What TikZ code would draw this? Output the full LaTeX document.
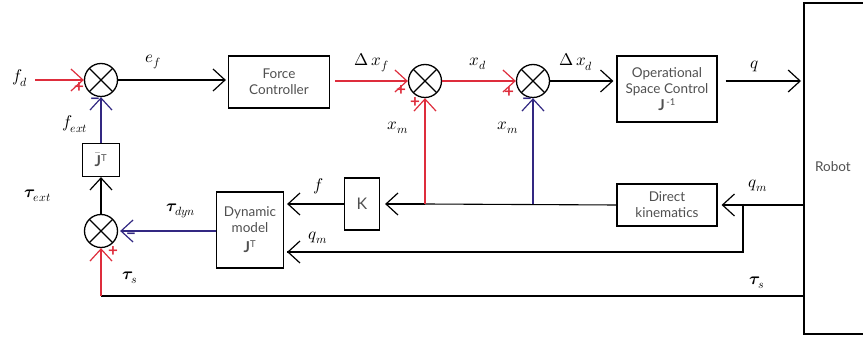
\documentclass[tikz,border=0pt]{standalone}
\usepackage{fontspec}
\setmainfont{Lato}
\usepackage{unicode-math}
\setmathfont{Latin Modern Math}
\usetikzlibrary{arrows.meta,calc}
\definecolor{cred}{RGB}{222,45,60}
\definecolor{cblue}{RGB}{50,40,130}
\definecolor{ctext}{RGB}{80,80,80}
\tikzset{
  x=1pt,y=-1pt,
  every path/.style={line width=1.1pt},
  arr/.style={-{Straight Barb[length=12pt,width=22pt,line width=1.2pt]}},
  sumnode/.style={circle,draw,line width=1.3pt,minimum size=33pt,inner sep=0pt,
    path picture={\draw[line width=1.3pt] (path picture bounding box.north east) -- (path picture bounding box.south west)
      (path picture bounding box.north west) -- (path picture bounding box.south east);}},
  blockbox/.style={draw,line width=1.2pt,align=center,text=ctext,font=\fontsize{13.5}{16}\selectfont,inner sep=0pt},
  lab/.style={font=\fontsize{17}{19}\selectfont,inner sep=0pt},
  sgn/.style={font=\bfseries\fontsize{17}{18}\selectfont,inner sep=0pt}
}
\newcommand{\bJ}{{\fontsize{15}{16}\selectfont\bfseries J}}
\begin{document}
\begin{tikzpicture}
\useasboundingbox (0,0) rectangle (863,339);
% sums
\node[sumnode] (s1) at (101,80) {};
\node[sumnode] (s2) at (425,81) {};
\node[sumnode] (s3) at (533,81) {};
\node[sumnode] (s4) at (101,231) {};
% blocks
\node[blockbox,minimum width=101pt,minimum height=52pt] (fc) at (279,82) {Force\\Controller};
\node[blockbox,minimum width=100pt,minimum height=66pt] (osc) at (667,89) {Operational\\Space Control\\[1pt]\bJ\textsuperscript{\,-1}};
\node[blockbox,minimum width=100pt,minimum height=42pt] (dk) at (667,205) {Direct\\kinematics};
\node[blockbox,minimum width=35pt,minimum height=52pt,font=\fontsize{16}{17}\selectfont] (k) at (362,204) {K};
\node[blockbox,minimum width=67pt,minimum height=76pt] (dyn) at (250,230) {Dynamic\\model\\[4pt]\bJ\textsuperscript{T}};
\node[blockbox,minimum width=37pt,minimum height=33pt] (jb) at (101,160) {$\bar{\text{\bJ}}$\textsuperscript{T}};
\draw[line width=1.2pt] (804,3) rectangle (940,334);
\coordinate (robotw) at (804,168);
\node[text=ctext,font=\fontsize{13.5}{16}\selectfont] (robottxt) at (833,167) {Robot};
% coordinates
\coordinate (fdin) at (35,80);
\coordinate (br) at (743,204);
\coordinate (qmin) at (287,252);
\coordinate (tsc) at (101,296);
\coordinate (kbr) at (425,204);
\coordinate (kbb) at (533,204);
% top row
\draw[arr,cred] (fdin) -- (s1.west);
\draw[arr] (s1.east) -- ([xshift=-2pt]fc.west |- s1.east);
\draw[arr,cred] (fc.east |- s2.west) ++(5,0) -- (s2.west);
\draw[arr,cred] (s2.east) -- (s3.west);
\draw[arr] (s3.east) -- ([xshift=-3pt]osc.west |- s3.east);
\draw[arr] (osc.east |- s3.east) ++(8,0) -- ([xshift=-3pt]robotw |- s3.east);
% feedback
\draw[arr] (robotw |- dk.east) -- ([xshift=4pt]dk.east);
\draw (br) |- (qmin);
\draw[arr] (qmin) ++(1,0) -- ([xshift=3pt]dyn.east |- qmin);
\draw (dk.west) -- (kbr);
\draw[arr] (kbr) -- ([xshift=5pt]k.east);
\draw[arr,cred] (kbr) -- (s2.south);
\draw[arr,cblue] (kbb) -- (s3.south);
\draw[arr] (k.west) -- ([xshift=3pt]dyn.east |- k.west);
\draw[arr,cblue] (dyn.west |- s4.east) -- ([xshift=2pt]s4.east);
\draw[arr] (s4.north) -- (jb.south);
\draw[arr,cblue] (jb.north) -- (s1.south);
\draw (robotw |- tsc) -- (tsc);
\draw[arr,cred] (tsc) -- (s4.south);
% signs
\node[sgn,cred] (p1) at (79,88) {+};
\node[sgn,cblue] (m1) at (95,101) {\textminus};
\node[sgn,cred] (p2a) at (401,91) {+};
\node[sgn,cred] (p2b) at (415,103) {+};
\node[sgn,cred] (p3) at (509,93) {+};
\node[sgn,cblue] (m3) at (527,101) {\textminus};
\node[sgn,cblue] (m4) at (131,236) {\textminus};
\node[sgn,cred] (p4) at (113,252) {+};
% labels
\node[lab] (lfd) at (20,78) {$f_{d}$};
\node[lab] (lef) at (153,62) {$e_{f}$};
\node[lab] (ldxf) at (372,63) {$\Delta\, x_{f}$};
\node[lab] (lxm1) at (398,128) {$x_{m}$};
\node[lab] (lxd) at (478,64) {$x_{d}$};
\node[lab] (ldxd) at (576,62) {$\Delta\, x_{d}$};
\node[lab] (lxm2) at (508,128) {$x_{m}$};
\node[lab] (lq) at (755,66) {$q$};
\node[lab] (lqm1) at (758,186) {$q_{m}$};
\node[lab] (lf) at (318,186) {$f$};
\node[lab] (lqm2) at (318,238) {$q_{m}$};
\node[lab] (ltd) at (181,211) {$\symbf{\tau}_{dyn}$};
\node[lab] (lte) at (38,196) {$\symbf{\tau}_{ext}$};
\node[lab] (lfe) at (75,124) {$f_{ext}$};
\node[lab] (lts1) at (130,278) {$\symbf{\tau}_s$};
\node[lab] (lts2) at (757,283) {$\symbf{\tau}_s$};
\end{tikzpicture}
\end{document}
